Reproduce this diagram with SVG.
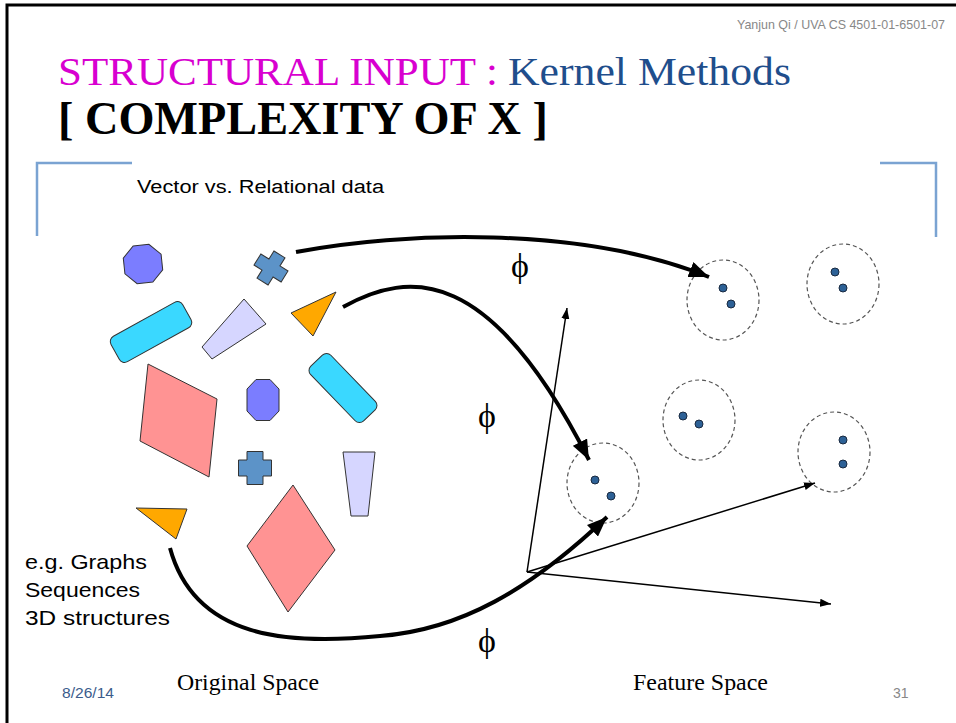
<svg xmlns="http://www.w3.org/2000/svg" width="956" height="723" viewBox="0 0 956 723">
<defs>
<style>
.shape{stroke:#333;stroke-width:1}
.cyan{fill:#3AD8FF}
.lav{fill:#D6D6FF}
.pink{fill:#FF9393}
.orange{fill:#FFA800}
.oct{fill:#7B7DFF}
.cross{fill:#5C93C8}
.clus{fill:none;stroke:#555;stroke-width:1.2;stroke-dasharray:4 3}
.dot{fill:#2D6196;stroke:#1a2a40;stroke-width:1}
.thick{fill:none;stroke:#000;stroke-width:4}
.thin{fill:none;stroke:#000;stroke-width:1.5}
.phi{font-family:"Liberation Serif",serif;font-size:34px;fill:#000}
.body{font-family:"Liberation Sans",Arial,sans-serif;fill:#000}
.space{font-family:"Liberation Serif",serif;font-size:23px;fill:#000}
.brk{fill:none;stroke:#7AA3D2;stroke-width:2.5}
</style>
<marker id="big" markerUnits="userSpaceOnUse" markerWidth="22" markerHeight="16" refX="20" refY="8" orient="auto">
<path d="M0,0 L20,8 L0,16 Z" fill="#000"/>
</marker>
<marker id="small" markerUnits="userSpaceOnUse" markerWidth="12" markerHeight="10" refX="11" refY="5" orient="auto">
<path d="M0,1 L11,5 L0,9 Z" fill="#000"/>
</marker>
</defs>
<rect width="956" height="723" fill="#fff"/>
<path d="M7,723 V5 H956" fill="none" stroke="#000" stroke-width="3"/>

<g id="header">
<text x="945" y="29" text-anchor="end" font-family="Liberation Sans,Arial,sans-serif" font-size="13" fill="#888" textLength="208" lengthAdjust="spacingAndGlyphs">Yanjun Qi / UVA CS 4501-01-6501-07</text>
<text x="58" y="85" font-family="Liberation Serif,serif" font-size="41" fill="#D800D0" textLength="440" lengthAdjust="spacingAndGlyphs">STRUCTURAL INPUT :</text>
<text x="508" y="85" font-family="Liberation Serif,serif" font-size="41" fill="#1F4E8C" textLength="283" lengthAdjust="spacingAndGlyphs">Kernel Methods</text>
<text x="58" y="134" font-family="Liberation Serif,serif" font-weight="bold" font-size="47" fill="#000" textLength="490" lengthAdjust="spacingAndGlyphs">[ COMPLEXITY OF X ]</text>
</g>

<g id="brackets">
<path class="brk" d="M132,163 H37 V236"/>
<path class="brk" d="M880,163 H936 V237"/>
</g>

<text id="subtitle" class="body" x="137" y="193" font-size="18" textLength="247" lengthAdjust="spacingAndGlyphs">Vector vs. Relational data</text>

<g id="shapes">
<polygon id="oct1" class="shape oct" transform="translate(143,264) rotate(-6)" points="-7.9,-19 7.9,-19 19,-7.9 19,7.9 7.9,19 -7.9,19 -19,7.9 -19,-7.9"/>
<polygon id="cross1" class="shape cross" transform="translate(271,268) rotate(32)" points="-6.5,-16 6.5,-16 6.5,-6.5 16,-6.5 16,6.5 6.5,6.5 6.5,16 -6.5,16 -6.5,6.5 -16,6.5 -16,-6.5 -6.5,-6.5"/>
<polygon id="tri1" class="shape orange" points="291,313 336,292 313,336"/>
<rect id="rect1" class="shape cyan" x="-41" y="-14.5" width="82" height="29" rx="6" transform="translate(151,332) rotate(-29)"/>
<polygon id="trap1" class="shape lav" points="202,347 244,299 266,324 212,359"/>
<rect id="rect2" class="shape cyan" x="-38" y="-14" width="76" height="28" rx="6" transform="translate(343,388) rotate(46)"/>
<polygon id="para1" class="shape pink" points="148,364 217,399 209,477 140,441"/>
<polygon id="oct2" class="shape oct" transform="translate(263,400)" points="-7,-20.5 7,-20.5 16,-11 16,11 7,20.5 -7,20.5 -16,11 -16,-11"/>
<polygon id="cross2" class="shape cross" transform="translate(255,468)" points="-8,-16.5 8,-16.5 8,-8 16.5,-8 16.5,8 8,8 8,16.5 -8,16.5 -8,8 -16.5,8 -16.5,-8 -8,-8"/>
<polygon id="trap2" class="shape lav" points="343,452 375,452 368,516 351,516"/>
<polygon id="tri2" class="shape orange" points="136,508 187,509 176,539"/>
<polygon id="rhomb2" class="shape pink" points="293,485 335,550 288,612 247,546"/>
</g>

<g id="clusters">
<g id="clusA"><ellipse class="clus" cx="723" cy="300" rx="36" ry="40"/><circle class="dot" cx="723" cy="288" r="4"/><circle class="dot" cx="731" cy="304" r="4"/></g>
<g id="clusB"><ellipse class="clus" cx="843" cy="284" rx="36" ry="40"/><circle class="dot" cx="835" cy="272" r="4"/><circle class="dot" cx="843" cy="288" r="4"/></g>
<g id="clusC"><ellipse class="clus" cx="699" cy="420" rx="36" ry="40"/><circle class="dot" cx="683" cy="416" r="4"/><circle class="dot" cx="699" cy="424" r="4"/></g>
<g id="clusD"><ellipse class="clus" cx="834" cy="452" rx="36" ry="40"/><circle class="dot" cx="843" cy="440" r="4"/><circle class="dot" cx="843" cy="464" r="4"/></g>
<g id="clusE"><ellipse class="clus" cx="603" cy="483" rx="36" ry="40"/><circle class="dot" cx="595" cy="480" r="4"/><circle class="dot" cx="611" cy="496" r="4"/></g>
</g>

<g id="connectors">
<line class="thin" x1="527" y1="572" x2="567" y2="308" marker-end="url(#small)"/>
<line class="thin" x1="527" y1="572" x2="815" y2="483" marker-end="url(#small)"/>
<line class="thin" x1="527" y1="572" x2="831" y2="604" marker-end="url(#small)"/>
<path class="thick" d="M296,252 C400,232 580,225 709,277" marker-end="url(#big)"/>
<path class="thick" d="M343,307 C410,270 490,265 589,460" marker-end="url(#big)"/>
<path class="thick" d="M170,548 C195,640 290,645 380,636 C460,630 530,590 607,517" marker-end="url(#big)"/>
</g>

<g id="labels">
<text class="phi" x="520" y="277" text-anchor="middle">ϕ</text>
<text class="phi" x="487" y="427" text-anchor="middle">ϕ</text>
<text class="phi" x="487" y="652" text-anchor="middle">ϕ</text>
<text class="body" x="25" y="569" font-size="21" textLength="122" lengthAdjust="spacingAndGlyphs">e.g. Graphs</text>
<text class="body" x="25" y="597" font-size="21" textLength="115" lengthAdjust="spacingAndGlyphs">Sequences</text>
<text class="body" x="25" y="625" font-size="21" textLength="145" lengthAdjust="spacingAndGlyphs">3D structures</text>
<text class="space" x="177" y="690" textLength="142" lengthAdjust="spacingAndGlyphs">Original Space</text>
<text class="space" x="633" y="690" textLength="135" lengthAdjust="spacingAndGlyphs">Feature Space</text>
<text x="62" y="698" font-family="Liberation Sans,Arial,sans-serif" font-size="14" fill="#3B5C8C" textLength="52" lengthAdjust="spacingAndGlyphs">8/26/14</text>
<text x="893" y="698" font-family="Liberation Sans,Arial,sans-serif" font-size="14" fill="#888">31</text>
</g>
</svg>
